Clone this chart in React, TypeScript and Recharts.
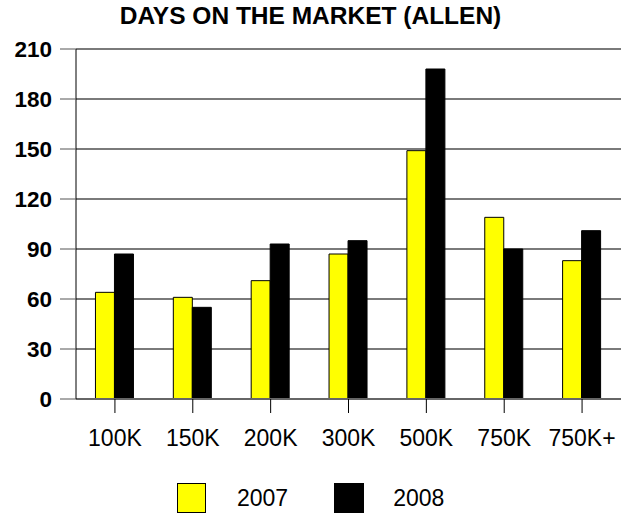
import React from 'react';
import { BarChart, Bar, XAxis, YAxis, CartesianGrid, Legend } from 'recharts';

const categories = ['100K', '150K', '200K', '300K', '500K', '750K', '750K+'];
const values2007 = [64, 61, 71, 87, 149, 109, 83];
const values2008 = [87, 55, 93, 95, 198, 90, 101];
const yTicks = [0, 30, 60, 90, 120, 150, 180, 210];
const seriesNames = ['2007', '2008'];
const seriesColors = ['#FFFF00', '#000000'];

const data = categories.map((c, i) => ({ cat: c, y2007: values2007[i], y2008: values2008[i] }));

const FONT = '"Liberation Sans", Arial, sans-serif';

const LegendContent = () => (
  <div style={{ display: 'flex', alignItems: 'center', height: 34, paddingLeft: 177, fontFamily: FONT, fontSize: 23, color: '#000' }}>
    <div style={{ width: 29, height: 30, boxSizing: 'border-box', background: seriesColors[0], border: '1px solid #000' }} />
    <span style={{ marginLeft: 31, lineHeight: '34px' }}>{seriesNames[0]}</span>
    <div style={{ marginLeft: 46, width: 30, height: 30, boxSizing: 'border-box', background: seriesColors[1], border: '1px solid #000' }} />
    <span style={{ marginLeft: 29, lineHeight: '34px' }}>{seriesNames[1]}</span>
  </div>
);

export default function App() {
  return (
    <div style={{ position: 'absolute', left: 0, top: 0, width: 621, height: 514, background: '#fff' }}>
      <div style={{ position: 'absolute', left: 0, top: 2, width: 621, textAlign: 'center', fontFamily: FONT, fontWeight: 'bold', fontSize: 24.5, lineHeight: '28px', color: '#000' }}>
        DAYS ON THE MARKET (ALLEN)
      </div>
      <BarChart
        width={621}
        height={514}
        data={data}
        margin={{ top: 49, right: 0, bottom: 37, left: 0 }}
        barCategoryGap="25%"
        barGap={0}
      >
        <CartesianGrid vertical={false} stroke="#7a7a7a" strokeWidth={2} />
        <XAxis
          dataKey="cat"
          height={44}
          tickSize={14}
          tickMargin={17}
          axisLine={{ stroke: '#666', strokeWidth: 2 }}
          tickLine={{ stroke: '#000', strokeWidth: 1 }}
          tick={{ fill: '#000', fontSize: 23, fontFamily: FONT }}
          interval={0}
        />
        <YAxis
          width={76}
          domain={[0, 210]}
          ticks={yTicks}
          tickSize={16}
          tickMargin={8}
          axisLine={{ stroke: '#000', strokeWidth: 1 }}
          tickLine={{ stroke: '#555', strokeWidth: 1 }}
          tick={{ fill: '#000', fontSize: 22.5, fontWeight: 'bold', fontFamily: FONT }}
          interval={0}
        />
        <Legend
          verticalAlign="bottom"
          content={<LegendContent />}
          wrapperStyle={{ position: 'absolute', top: 481, bottom: 'auto', left: 0, width: 621, height: 34 }}
        />
        <Bar dataKey="y2007" name={seriesNames[0]} fill={seriesColors[0]} stroke="#000" strokeWidth={1} isAnimationActive={false} />
        <Bar dataKey="y2008" name={seriesNames[1]} fill={seriesColors[1]} stroke="#000" strokeWidth={1} isAnimationActive={false} />
      </BarChart>
    </div>
  );
}
